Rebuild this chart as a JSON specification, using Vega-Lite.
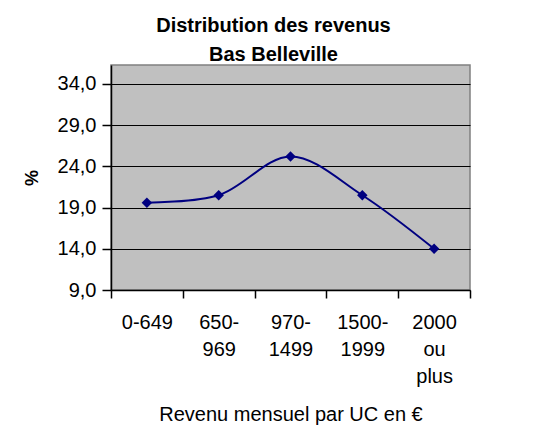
{
  "$schema": "https://vega.github.io/schema/vega-lite/v6.json",
  "width": 359,
  "height": 225,
  "autosize": {"type": "none"},
  "padding": {"left": 111, "top": 65, "right": 73, "bottom": 135},
  "background": "white",
  "title": {
    "text": ["Distribution des revenus", "Bas Belleville"],
    "font": "Liberation Sans",
    "fontSize": 20,
    "fontWeight": "bold",
    "color": "black",
    "lineHeight": 29,
    "anchor": "middle",
    "frame": "group",
    "dx": -17,
    "offset": 0
  },
  "data": {
    "values": [
      {"tranche": "0-649", "pct": 19.6},
      {"tranche": "650-|969", "pct": 20.5},
      {"tranche": "970-|1499", "pct": 25.2},
      {"tranche": "1500-|1999", "pct": 20.5},
      {"tranche": "2000|ou|plus", "pct": 14.0}
    ]
  },
  "mark": {
    "type": "line",
    "interpolate": "catmull-rom",
    "color": "#000080",
    "strokeWidth": 2,
    "point": {"shape": "diamond", "filled": true, "size": 110, "color": "#000080"}
  },
  "encoding": {
    "x": {
      "field": "tranche",
      "type": "nominal",
      "sort": null,
      "scale": {"paddingInner": 0, "paddingOuter": 0},
      "axis": {
        "tickBand": "extent",
        "labelAngle": 0,
        "labelExpr": "isValid(datum.value) ? split(datum.value, '|') : ''",
        "labelLineHeight": 27,
        "labelFontSize": 20,
        "labelPadding": 14,
        "title": "Revenu mensuel par UC en €",
        "titleFontSize": 20,
        "titleFontWeight": "normal",
        "titlePadding": 18,
        "tickSize": 8,
        "grid": false
      }
    },
    "y": {
      "field": "pct",
      "type": "quantitative",
      "scale": {"domain": [9, 36.3], "nice": false, "zero": false},
      "axis": {
        "values": [9, 14, 19, 24, 29, 34],
        "labelExpr": "replace(format(datum.value, '.1f'), '.', ',')",
        "labelFontSize": 20,
        "labelPadding": 6,
        "title": "%",
        "titleFontSize": 18,
        "titleFontWeight": "bold",
        "titlePadding": 16,
        "grid": true,
        "gridColor": "black",
        "gridOpacity": 1,
        "gridWidth": 1.2,
        "tickSize": 9
      }
    }
  },
  "config": {
    "view": {"fill": "#C0C0C0", "stroke": "#808080", "strokeWidth": 1.5},
    "axis": {
      "labelFont": "Liberation Sans",
      "titleFont": "Liberation Sans",
      "labelColor": "black",
      "titleColor": "black",
      "domainColor": "black",
      "domainWidth": 1.5,
      "tickColor": "black",
      "tickWidth": 1.5
    }
  }
}
